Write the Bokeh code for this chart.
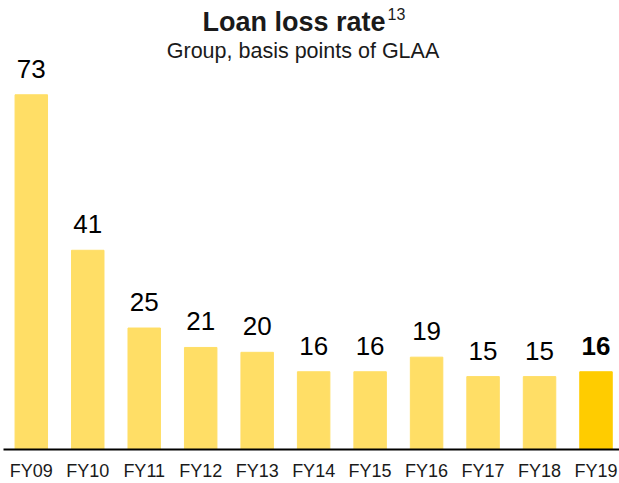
from bokeh.plotting import figure
from bokeh.models import ColumnDataSource, Range1d, Label, FixedTicker
from bokeh.core.properties import value
from bokeh.embed import file_html
from bokeh.resources import INLINE

categories = ["FY09", "FY10", "FY11", "FY12", "FY13", "FY14", "FY15", "FY16", "FY17", "FY18", "FY19"]
loss_rates = [73, 41, 25, 21, 20, 16, 16, 19, 15, 15, 16]
bar_colors = ["#FFDE66"] * 10 + ["#FFCC00"]
label_styles = ["normal"] * 10 + ["bold"]

idx = list(range(len(categories)))
source = ColumnDataSource(dict(
    x=idx,
    val=loss_rates,
    color=bar_colors,
    txt=[str(v) for v in loss_rates],
    style=label_styles,
))

FONT = "Liberation Sans"

p = figure(
    width=619, height=483,
    x_range=Range1d(-0.492, 10.416),
    y_range=Range1d(0, 92.4),
    output_backend="svg", toolbar_location=None, title=None,
    min_border_left=3, min_border_right=0, min_border_top=0, min_border_bottom=0,
)

p.vbar(x="x", top="val", width=0.575, color="color", source=source)
p.text(x="x", y="val", text="txt", source=source, y_offset=-26,
       text_align="center", text_baseline="alphabetic",
       text_font=value(FONT), text_font_size="26px", text_font_style="style",
       text_color="#000000")

p.add_layout(Label(x=199, y=428, x_units="screen", y_units="screen",
                   text="Loan loss rate", text_font=FONT, text_font_size="27px",
                   text_font_style="bold", text_color="#1a1a1a",
                   text_align="left", text_baseline="alphabetic"))
p.add_layout(Label(x=384, y=436, x_units="screen", y_units="screen",
                   text="13", text_font=FONT, text_font_size="16px",
                   text_color="#1a1a1a", text_align="left", text_baseline="alphabetic"))
p.add_layout(Label(x=299.5, y=399, x_units="screen", y_units="screen",
                   text="Group, basis points of GLAA", text_font=FONT, text_font_size="21.5px",
                   text_color="#1a1a1a", text_align="center", text_baseline="alphabetic"))

p.yaxis.visible = False
p.xgrid.visible = False
p.ygrid.visible = False
p.outline_line_color = None
p.background_fill_color = "white"
p.border_fill_color = "white"

xa = p.xaxis[0]
xa.ticker = FixedTicker(ticks=idx)
xa.major_label_overrides = {i: c for i, c in zip(idx, categories)}
xa.axis_line_color = "#000000"
xa.axis_line_width = 2
xa.major_tick_line_color = None
xa.minor_tick_line_color = None
xa.major_tick_out = 0
xa.major_tick_in = 0
xa.major_label_standoff = 11
xa.major_label_text_font = FONT
xa.major_label_text_font_size = "18px"
xa.major_label_text_color = "#1a1a1a"

open("out.html", "w").write(file_html(p, INLINE))
